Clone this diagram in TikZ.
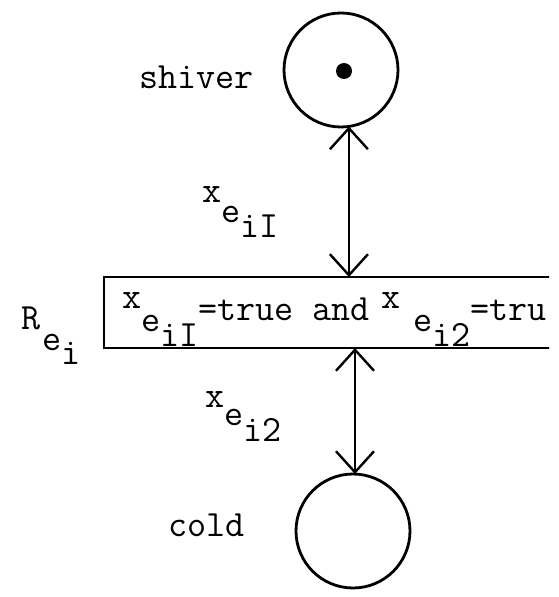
\documentclass[tikz,border=0pt]{standalone}
\usepackage{fontspec}
\usetikzlibrary{arrows.meta}
\newcommand{\twfont}{\fontsize{37}{40}\selectfont\ttfamily\addfontfeatures{FakeBold=3}}
\newcommand{\dn}[2]{\raisebox{-#1pt}{#2}}
\newcommand{\up}[2]{\raisebox{#1pt}{#2}}
\begin{document}
\begin{tikzpicture}[x=1pt,y=-1pt,
  place/.style={circle, draw, line width=2.8pt, minimum size=114pt, inner sep=0pt, outer sep=0pt},
  token/.style={circle, fill, minimum size=16pt, inner sep=0pt},
  trans/.style={draw, line width=2.8pt, anchor=north west, minimum width=520pt, minimum height=71pt, inner sep=0pt, outer sep=0pt},
  lbl/.style={font=\twfont, inner sep=0pt, anchor=base west},
  biarrow/.style={line width=2.4pt, {Straight Barb[length=21pt,width=38pt]}-{Straight Barb[length=21pt,width=38pt]}}]
\useasboundingbox (0,0) rectangle (558,597);
\node[place] (shiver) at (341,70) {};
\node[token] (tok) at (344,71) {};
\node[place] (cold) at (353,531) {};
\begin{scope}
  \clip (0,0) rectangle (549,597);
  \node[trans] (R) at (104,277) {};
\end{scope}
\node[lbl] (cond) at (122,320) {\up{12}{x}\dn{11}{e}\dn{26}{iI}=true and\hspace{-7pt} \up{12}{x}\hspace{12pt}\dn{11}{e}\dn{26}{i2}=tru};
\node[lbl] (sl) at (139,88) {shiver};
\node[lbl] (cl) at (168,536) {cold};
\node[lbl] (a1) at (202,202) {x\dn{20}{e}\dn{35}{iI}};
\node[lbl] (a2) at (205,407) {x\dn{18}{e}\dn{34}{i2}};
\node[lbl] (rl) at (21,329) {R\hspace{2pt}\dn{21}{e}\dn{35}{i}};
\draw[biarrow] (shiver.-82) -- (shiver.-82 |- R.north);
\draw[biarrow] (cold.88) -- (cold.88 |- R.south);
\end{tikzpicture}
\end{document}
